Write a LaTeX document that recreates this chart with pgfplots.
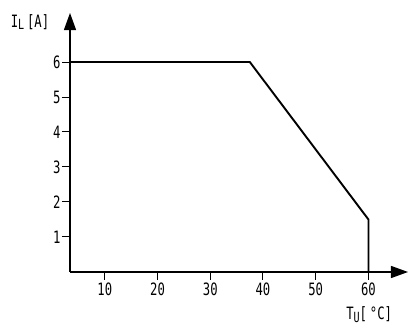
\documentclass[border=0pt]{standalone}
\usepackage{fontspec}
\setmainfont{DejaVu Sans Mono}[FakeStretch=0.72]
\usepackage{pgfplots}
\pgfplotsset{compat=1.18}
\usetikzlibrary{arrows.meta}
\newcommand{\lblfont}{\fontsize{17}{19}\selectfont}
\newcommand{\lowsub}[1]{\raisebox{-0.3ex}{\fontsize{14}{16}\selectfont #1}}
\begin{document}
\begin{tikzpicture}
\path[use as bounding box] (-70pt,-59pt) rectangle (340pt,272pt);
\begin{axis}[
    at={(0,0)}, anchor=origin,
    scale only axis,
    width=338pt, height=259pt,
    xmin=3.4, xmax=67.5,
    ymin=0, ymax=7.4,
    axis lines=left,
    axis line style={line width=1.3pt, -{Triangle[length=17pt,width=12pt]}},
    xtick={10,20,30,40,50,60},
    ytick={1,2,3,4,5,6},
    tick align=outside,
    major tick length=8pt,
    tick style={line width=1pt, black},
    /pgf/number format/assume math mode=true,
    tick label style={font=\lblfont},
    xticklabel style={yshift=1pt},
    yticklabel style={xshift=2pt},
    clip=false,
]
\addplot[black, line width=1.9pt, line join=miter] coordinates {
    (3.4,6) (37.5,6) (60,1.5) (60,0)
};
\node[font=\lblfont, inner sep=0pt] at (rel axis cs:0.885,0) [yshift=-43pt] {T\lowsub{U}[\,°C]};
\node[font=\lblfont, inner sep=0pt] at (rel axis cs:0,0.965) [xshift=-40pt] {I\lowsub{L}\,[A]};
\end{axis}
\end{tikzpicture}
\end{document}
